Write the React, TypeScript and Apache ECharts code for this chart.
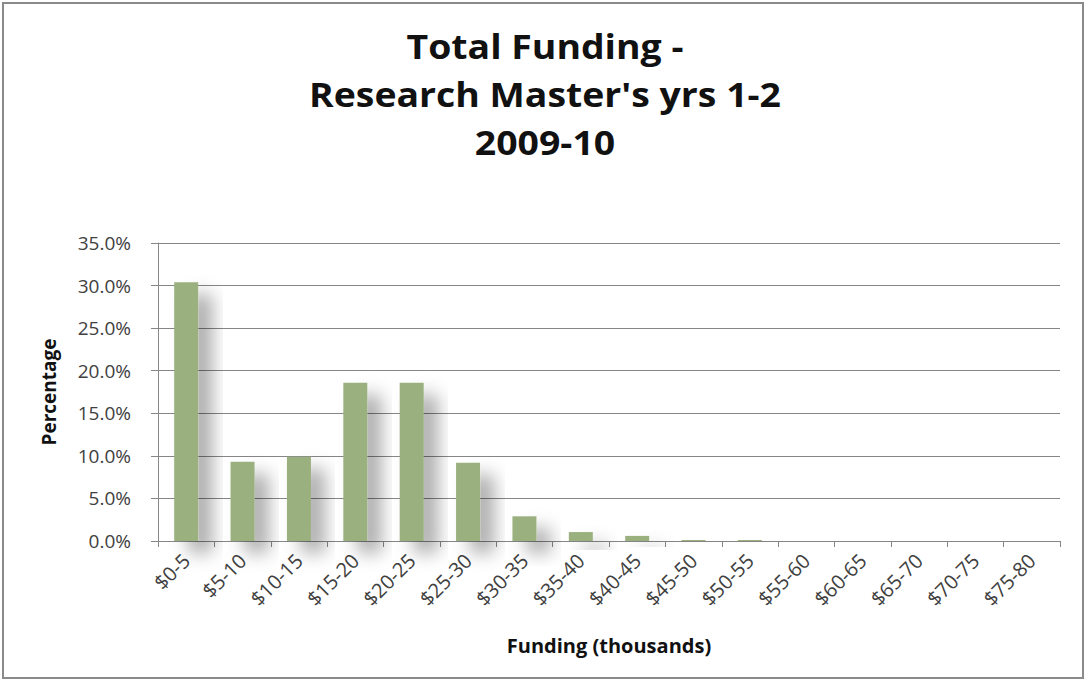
import React, { useEffect, useRef } from "react";
import * as echarts from "echarts";

const categories = [
  "$0-5", "$5-10", "$10-15", "$15-20", "$20-25", "$25-30", "$30-35", "$35-40",
  "$40-45", "$45-50", "$50-55", "$55-60", "$60-65", "$65-70", "$70-75", "$75-80",
];
const percentages = [30.4, 9.3, 9.9, 18.6, 18.6, 9.2, 2.9, 1.05, 0.6, 0.12, 0.12, 0, 0, 0, 0, 0];
const titleLines = ["Total Funding -", "Research Master's yrs 1-2", "2009-10"];

const FONT = "'Open Sans', Lato, sans-serif";

export default function App() {
  const ref = useRef<HTMLDivElement>(null);
  useEffect(() => {
    document.body.style.margin = "0";
    const chart = echarts.init(ref.current!, null, { renderer: "svg" });
    const titleGraphics = titleLines.map((line, i) => ({
      type: "text",
      x: 545,
      y: 46 + i * 48,
      scaleX: 1.1,
      silent: true,
      style: {
        text: line,
        textAlign: "center",
        textVerticalAlign: "middle",
        fontFamily: FONT,
        fontWeight: "bold",
        fontSize: 34,
        fill: "#111",
      },
    }));
    chart.setOption({
      animation: false,
      backgroundColor: "#ffffff",
      textStyle: { fontFamily: FONT },
      graphic: [
        {
          type: "rect",
          shape: { x: 3, y: 3, width: 1080, height: 675 },
          style: { fill: "none", stroke: "#8a8a8a", lineWidth: 2 },
          silent: true,
        },
        ...titleGraphics,
      ],
      grid: { left: 158, right: 28, top: 243, bottom: 140, containLabel: false },
      xAxis: {
        type: "category",
        data: categories,
        name: "Funding (thousands)",
        nameLocation: "middle",
        nameGap: 94,
        nameTextStyle: { fontFamily: FONT, fontWeight: "bold", fontSize: 20, color: "#111" },
        axisLine: { lineStyle: { color: "#868686", width: 1 } },
        axisTick: { show: true, length: 6, lineStyle: { color: "#868686" } },
        axisLabel: { rotate: 45, fontSize: 20, color: "#404040", margin: 16, interval: 0 },
      },
      yAxis: {
        type: "value",
        min: 0,
        max: 35,
        interval: 5,
        name: "Percentage",
        nameLocation: "middle",
        nameGap: 100,
        nameRotate: 90,
        nameTextStyle: { fontFamily: FONT, fontWeight: "bold", fontSize: 19, color: "#111" },
        axisLine: { show: true, lineStyle: { color: "#868686", width: 1 } },
        axisTick: { show: true, length: 7, lineStyle: { color: "#868686" } },
        axisLabel: {
          fontSize: 19,
          color: "#404040",
          margin: 27,
          formatter: (v: number) => v.toFixed(1) + "%",
        },
        splitLine: { show: true, lineStyle: { color: "#868686", width: 1 } },
      },
      series: [
        {
          type: "bar",
          data: percentages,
          barWidth: 24,
          itemStyle: {
            color: "#9bb07f",
            shadowColor: "rgba(0,0,0,0.33)",
            shadowBlur: 18,
            shadowOffsetX: 14,
            shadowOffsetY: 12,
          },
        },
      ],
    });
    return () => chart.dispose();
  }, []);
  return <div ref={ref} style={{ width: 1088, height: 681 }} />;
}
